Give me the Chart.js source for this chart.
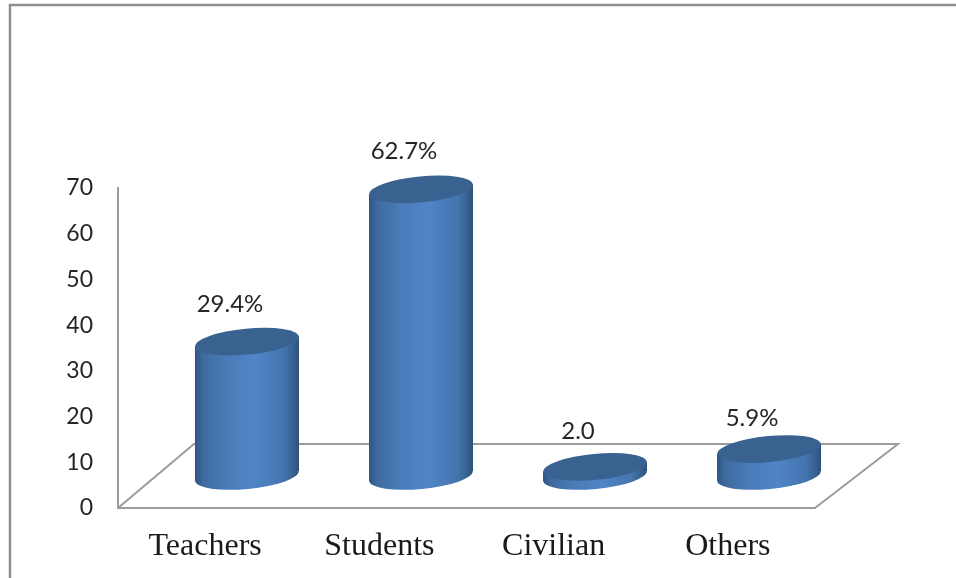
<!DOCTYPE html>
<html>
<head>
<meta charset="utf-8">
<title>Respondents</title>
<style>
  body { margin: 0; background: #fff; }
  canvas { display: block; }
</style>
<script src="https://cdn.jsdelivr.net/npm/chart.js@4"></script>
</head>
<body>
<canvas id="myChart" width="956" height="578"></canvas>
<script>
const categories = ["Teachers", "Students", "Civilian", "Others"];
const values = [29.4, 62.7, 2.0, 5.9];
const valueLabels = ["29.4%", "62.7%", "2.0", "5.9%"];
const yTicks = [0, 10, 20, 30, 40, 50, 60, 70];

// how far each value label sits above its cylinder top
const labelLift = [37, 38, 36, 31];

const lineColor = "#9c9c9c";
const frameColor = "#8e8e8e";
const rx = 52;
const ry = 13;
const tilt = (-5.5 * Math.PI) / 180;
const tiltDrop = 5;

const sideGradient = (ctx, x) => {
  const g = ctx.createLinearGradient(x - rx, 0, x + rx, 0);
  g.addColorStop(0, "#2f5585");
  g.addColorStop(0.08, "#3f6b9e");
  g.addColorStop(0.3, "#4a7cb8");
  g.addColorStop(0.58, "#4f84c6");
  g.addColorStop(0.85, "#4575af");
  g.addColorStop(0.95, "#37608f");
  g.addColorStop(1, "#2d4f7a");
  return g;
};

const sidePath = (ctx, bar) => {
  ctx.moveTo(bar.x - rx, bar.y + tiltDrop);
  ctx.lineTo(bar.x + rx, bar.y - tiltDrop);
  ctx.lineTo(bar.x + rx, bar.base - tiltDrop);
  ctx.lineTo(bar.x - rx, bar.base + tiltDrop);
  ctx.closePath();
};

// draws the room and the round ends of the bars
const cylinders = {
  id: "cylinders",
  beforeDraw(chart) {
    const { ctx, width, height } = chart;
    ctx.save();
    ctx.strokeStyle = frameColor;
    ctx.lineWidth = 2.5;
    ctx.beginPath();
    ctx.moveTo(10, height);
    ctx.lineTo(10, 5);
    ctx.lineTo(width, 5);
    ctx.stroke();
    ctx.restore();
  },
  beforeDatasetsDraw(chart) {
    const { ctx, chartArea } = chart;
    const { left, right, bottom } = chartArea;
    ctx.save();
    ctx.strokeStyle = lineColor;
    ctx.lineWidth = 2;
    ctx.beginPath();
    ctx.moveTo(left, bottom);
    ctx.lineTo(left + 76, bottom - 64);
    ctx.lineTo(right + 83, bottom - 64);
    ctx.lineTo(right, bottom);
    ctx.stroke();

    const bars = chart.getDatasetMeta(0).data;
    bars.forEach((bar) => {
      ctx.fillStyle = sideGradient(ctx, bar.x);
      ctx.beginPath();
      ctx.ellipse(bar.x, bar.base, rx, ry, tilt, 0, Math.PI * 2);
      sidePath(ctx, bar);
      ctx.fill("nonzero");
    });
    ctx.restore();

    // cut the square corners off the library's bars
    ctx.save();
    ctx.beginPath();
    bars.forEach((bar) => sidePath(ctx, bar));
    ctx.clip();
  },
  afterDatasetsDraw(chart) {
    const { ctx } = chart;
    ctx.restore();
    ctx.save();
    chart.getDatasetMeta(0).data.forEach((bar, i) => {
      ctx.fillStyle = "#3a6291";
      ctx.beginPath();
      ctx.ellipse(bar.x, bar.y, rx, ry, tilt, 0, Math.PI * 2);
      ctx.fill();

      ctx.fillStyle = "#262626";
      ctx.font = "24px Lato";
      ctx.textAlign = "center";
      ctx.textBaseline = "middle";
      ctx.fillText(valueLabels[i], bar.x - 17, bar.y - labelLift[i]);
    });
    ctx.restore();
  },
};

let myChart = document.getElementById("myChart");
new Chart(myChart, {
  type: "bar",
  data: {
    labels: categories,
    datasets: [
      {
        data: values.map((v, i) => ({ x: i, y: v })),
        xAxisID: "xBars",
        yAxisID: "yBars",
        barThickness: rx * 2,
        backgroundColor: (c) => {
          const x = c.chart.scales.xBars.getPixelForValue(c.dataIndex);
          return Number.isFinite(x) ? sideGradient(c.chart.ctx, x) : "#4a7cb8";
        },
      },
    ],
  },
  options: {
    responsive: false,
    animation: false,
    events: [],
    layout: { padding: { left: 0, right: 141, top: 188, bottom: 0 } },
    plugins: { legend: { display: false }, tooltip: { enabled: false } },
    scales: {
      x: {
        type: "category",
        offset: true,
        grid: { display: false, drawTicks: false },
        border: { color: lineColor, width: 2 },
        ticks: {
          color: "#1a1a1a",
          padding: 19,
          maxRotation: 0,
          font: { family: "Liberation Serif", size: 32 },
        },
        afterFit: (scale) => { scale.height = 70; },
      },
      y: {
        min: 0,
        max: 70,
        afterBuildTicks: (scale) => { scale.ticks = yTicks.map((value) => ({ value })); },
        grid: { display: false, drawTicks: false },
        border: { color: lineColor, width: 2 },
        ticks: {
          color: "#262626",
          padding: 25,
          font: { family: "Lato", size: 23 },
        },
        afterFit: (scale) => { scale.width = 118; },
      },
      // the bars stand back from the front axes, so they get their own hidden scales
      xBars: { type: "linear", display: false, offset: false, min: -0.741, max: 3.264 },
      yBars: { type: "linear", display: false, min: -7, max: 63 },
    },
  },
  plugins: [cylinders],
});
</script>
</body>
</html>
